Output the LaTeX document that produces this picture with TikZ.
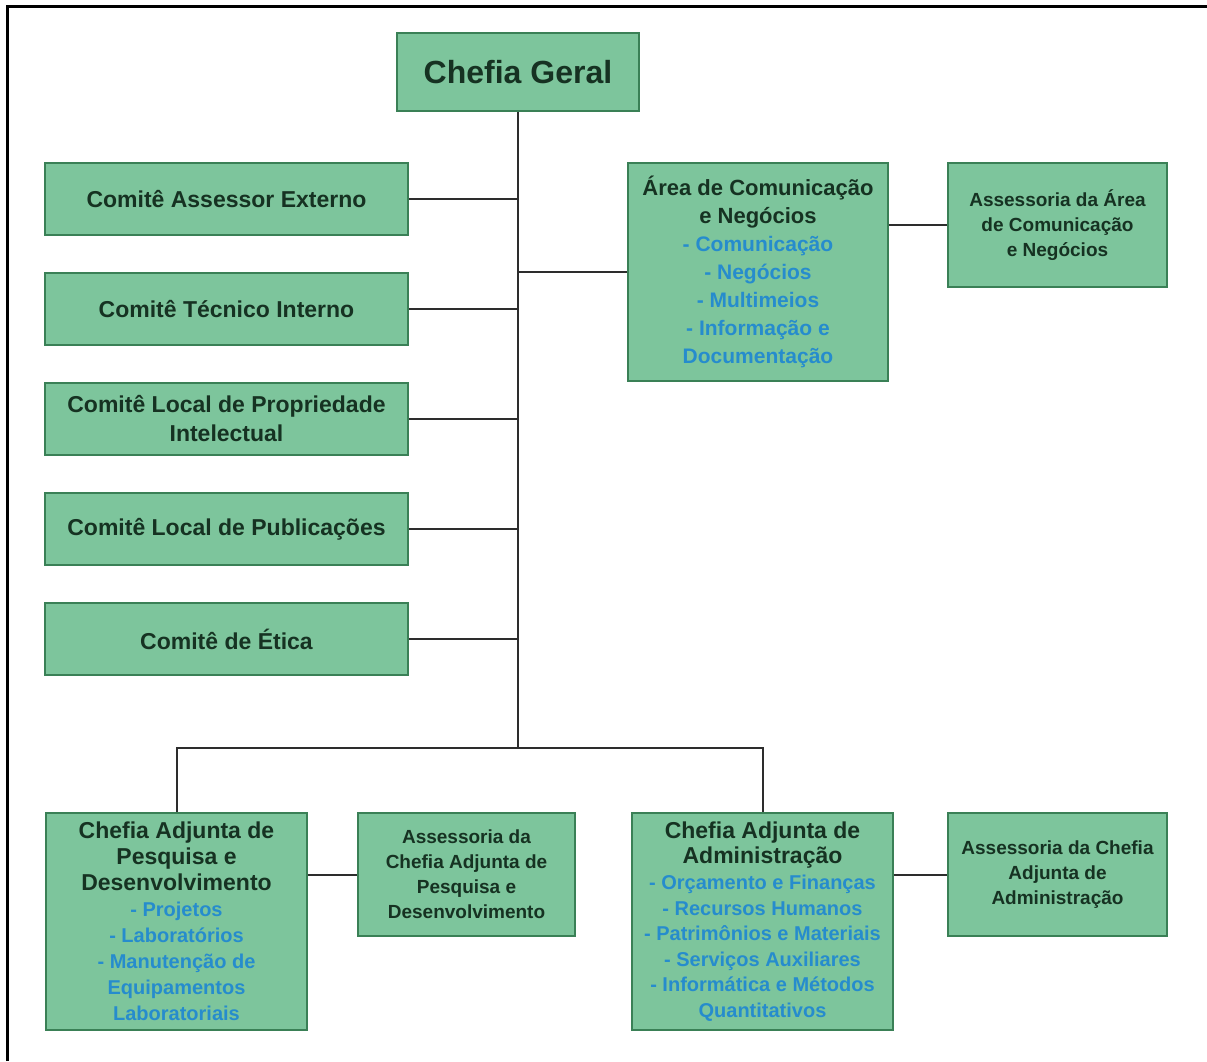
\documentclass[tikz,border=0pt]{standalone}
\usepackage{fontspec}
\setmainfont{Liberation Sans}
\definecolor{boxfill}{RGB}{125,197,156}
\definecolor{boxdraw}{RGB}{58,128,86}
\definecolor{txtdark}{RGB}{22,50,34}
\definecolor{txtblue}{RGB}{38,140,205}
\definecolor{linec}{RGB}{45,45,45}
\newcommand{\blueitem}[2]{{\color{txtblue}\fontsize{#1}{#1}\selectfont #2}}
\begin{document}
\begin{tikzpicture}[x=1pt,y=-1pt,
  box/.style={draw=boxdraw, line width=1.5pt, fill=boxfill, text=txtdark, inner sep=0pt, align=center},
  conn/.style={draw=linec, line width=2pt}]
\useasboundingbox (0,0) rectangle (1207,1061);
\fill[white] (0,0) rectangle (1207,1061);
\draw[line width=3pt] (7,1061) -- (7,6) -- (1207,6);

\node[box, minimum width=242pt, minimum height=78pt, font=\bfseries\fontsize{32}{38}\selectfont] (cg) at (518,72) {Chefia Geral};

\tikzset{comite/.style={box, minimum width=363pt, minimum height=72pt, font=\bfseries\fontsize{23}{29}\selectfont}}
\node[comite] (c1) at (226.5,199) {Comitê Assessor Externo};
\node[comite] (c2) at (226.5,309) {Comitê Técnico Interno};
\node[comite] (c3) at (226.5,419) {Comitê Local de Propriedade\\Intelectual};
\node[comite] (c4) at (226.5,529) {Comitê Local de Publicações};
\node[comite] (c5) at (226.5,639) {Comitê de Ética};

\node[box, minimum width=260pt, minimum height=218pt, font=\bfseries\fontsize{22}{28}\selectfont] (area) at (758,272)
  {Área de Comunicação\\e Negócios\\\blueitem{21}{- Comunicação}\\\blueitem{21}{- Negócios}\\\blueitem{21}{- Multimeios}\\\blueitem{21}{- Informação e}\\\blueitem{21}{Documentação}};
\node[box, minimum width=219pt, minimum height=124pt, font=\bfseries\fontsize{19}{25}\selectfont] (assarea) at (1057.5,225)
  {Assessoria da Área\\de Comunicação\\e Negócios};

\node[box, minimum width=261pt, minimum height=217pt, font=\bfseries\fontsize{23}{26}\selectfont] (capd) at (176.5,921.5)
  {Chefia Adjunta de\\Pesquisa e\\Desenvolvimento\\\blueitem{20}{- Projetos}\\\blueitem{20}{- Laboratórios}\\\blueitem{20}{- Manutenção de}\\\blueitem{20}{Equipamentos}\\\blueitem{20}{Laboratoriais}};
\node[box, minimum width=217pt, minimum height=123pt, font=\bfseries\fontsize{19}{25}\selectfont] (asspd) at (466.5,874.5)
  {Assessoria da\\Chefia Adjunta de\\Pesquisa e\\Desenvolvimento};

\node[box, minimum width=261pt, minimum height=217pt, font=\bfseries\fontsize{23}{25.6}\selectfont] (caadm) at (762.5,921.5)
  {Chefia Adjunta de\\Administração\\\blueitem{20}{- Orçamento e Finanças}\\\blueitem{20}{- Recursos Humanos}\\\blueitem{20}{- Patrimônios e Materiais}\\\blueitem{20}{- Serviços Auxiliares}\\\blueitem{20}{- Informática e Métodos}\\\blueitem{20}{Quantitativos}};
\node[box, minimum width=219pt, minimum height=123pt, font=\bfseries\fontsize{19}{25}\selectfont] (assadm) at (1057.5,874.5)
  {Assessoria da Chefia\\Adjunta de\\Administração};

\coordinate (hub) at (518,748);
\draw[conn] (cg.south) -- (hub);
\draw[conn] (capd.north) |- (hub) -| (caadm.north);
\foreach \c in {c1,c2,c3,c4,c5}{\draw[conn] (\c.east) -- (\c.east -| hub);}
\draw[conn] (area.west) -- (area.west -| hub);
\draw[conn] (assarea.west -| area.east) -- (assarea.west);
\draw[conn] (asspd.west -| capd.east) -- (asspd.west);
\draw[conn] (assadm.west -| caadm.east) -- (assadm.west);
\end{tikzpicture}
\end{document}
